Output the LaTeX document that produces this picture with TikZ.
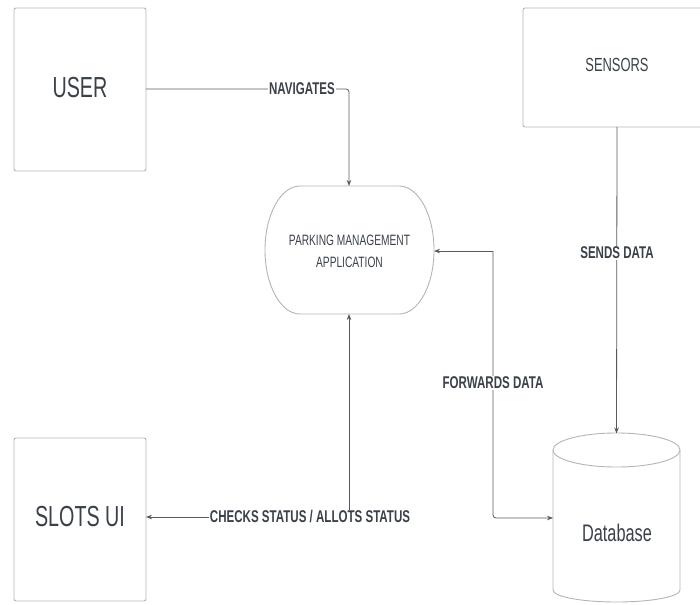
\documentclass[tikz,border=0pt]{standalone}
\usepackage{fontspec}
\setmainfont{Liberation Sans}
\newfontfamily\cond[FakeStretch=0.68]{Liberation Sans}
\usetikzlibrary{arrows.meta}
\definecolor{txt}{HTML}{3A414A}
\definecolor{bord}{HTML}{B4B4B4}
\definecolor{conn}{HTML}{555A60}
\tikzset{
  boxst/.style={draw=bord, line width=0.9pt, rounded corners=2pt},
  conline/.style={draw=conn, line width=0.8pt, rounded corners=3pt},
  arr/.style={-{Stealth[length=6pt,width=4.5pt]}},
  lbl/.style={fill=white, inner sep=1pt, text=txt, font=\cond\bfseries\fontsize{17}{20}\selectfont},
  hidden/.style={inner sep=0pt, outer sep=0pt, draw=none}
}
\begin{document}
\begin{tikzpicture}[x=1pt,y=-1pt]
\useasboundingbox (0,0) rectangle (700,604);
\begin{scope}
\clip (0,0) rectangle (700,604);
% boxes
\draw[boxst] (14,8) rectangle (146,171);
\draw[boxst] (14,438) rectangle (146,601);
\draw[boxst] (523,8) rectangle (711,127);
\end{scope}
\node[hidden, minimum width=132pt, minimum height=163pt] (user) at (80,89.5) {};
\node[hidden, minimum width=132pt, minimum height=163pt] (slots) at (80,519.5) {};
\node[hidden, minimum width=188pt, minimum height=119pt] (sensors) at (617,67.5) {};
\node[text=txt, font=\cond\fontsize{29}{34}\selectfont] at (80,88) {USER};
\node[text=txt, font=\cond\fontsize{29}{34}\selectfont] at (80,517) {SLOTS UI};
\node[text=txt, font=\cond\fontsize{19}{22}\selectfont] at (617,65) {SENSORS};
% application capsule
\node[hidden, minimum width=169pt, minimum height=128pt] (app) at (349.5,250) {};
\draw[draw=bord, line width=0.9pt] (300,186) -- (399,186)
  arc[start angle=90, end angle=0, x radius=35, y radius=-64]
  arc[start angle=0, end angle=-90, x radius=35, y radius=-64]
  -- (300,314)
  arc[start angle=270, end angle=180, x radius=35, y radius=-64]
  arc[start angle=180, end angle=90, x radius=35, y radius=-64] -- cycle;
\node[text=txt, align=center, font=\cond\fontsize{15}{22}\selectfont] at (349.5,251) {PARKING MANAGEMENT\\APPLICATION};
% database cylinder
\node[hidden, minimum width=127pt, minimum height=169pt] (db) at (616.5,518) {};
\draw[draw=bord, line width=0.9pt] (616.5,450) ellipse[x radius=63.5, y radius=17];
\draw[draw=bord, line width=0.9pt] (553,450) -- (553,590)
  arc[start angle=180, end angle=360, x radius=63.5, y radius=-12] -- (680,450);
\node[text=txt, font=\cond\fontsize{24}{28}\selectfont] at (617,533) {Database};
% connectors
\coordinate (navc) at (349,89);
\draw[conline, arr] (user.east |- navc) -- (navc) -- (app.north -| navc);
\node[lbl] at (302,89) {NAVIGATES};
\draw[conline, arr] (sensors.south) -- (db.north);
\node[lbl] at (617,253) {SENDS DATA};
\coordinate (fwa) at (493,251);
\coordinate (fwb) at (493,518);
\draw[conline, arr] (fwa) -- (app.east |- fwa);
\draw[conline, arr] (fwa) -- (fwb) -- (db.west |- fwb);
\node[lbl] at (493,383) {FORWARDS DATA};
\coordinate (cka) at (349,517);
\draw[conline, arr] (cka) -- (app.south -| cka);
\draw[conline, arr] (cka) -- (slots.east |- cka);
\node[lbl] at (310,517) {CHECKS STATUS / ALLOTS STATUS};
\end{tikzpicture}
\end{document}
